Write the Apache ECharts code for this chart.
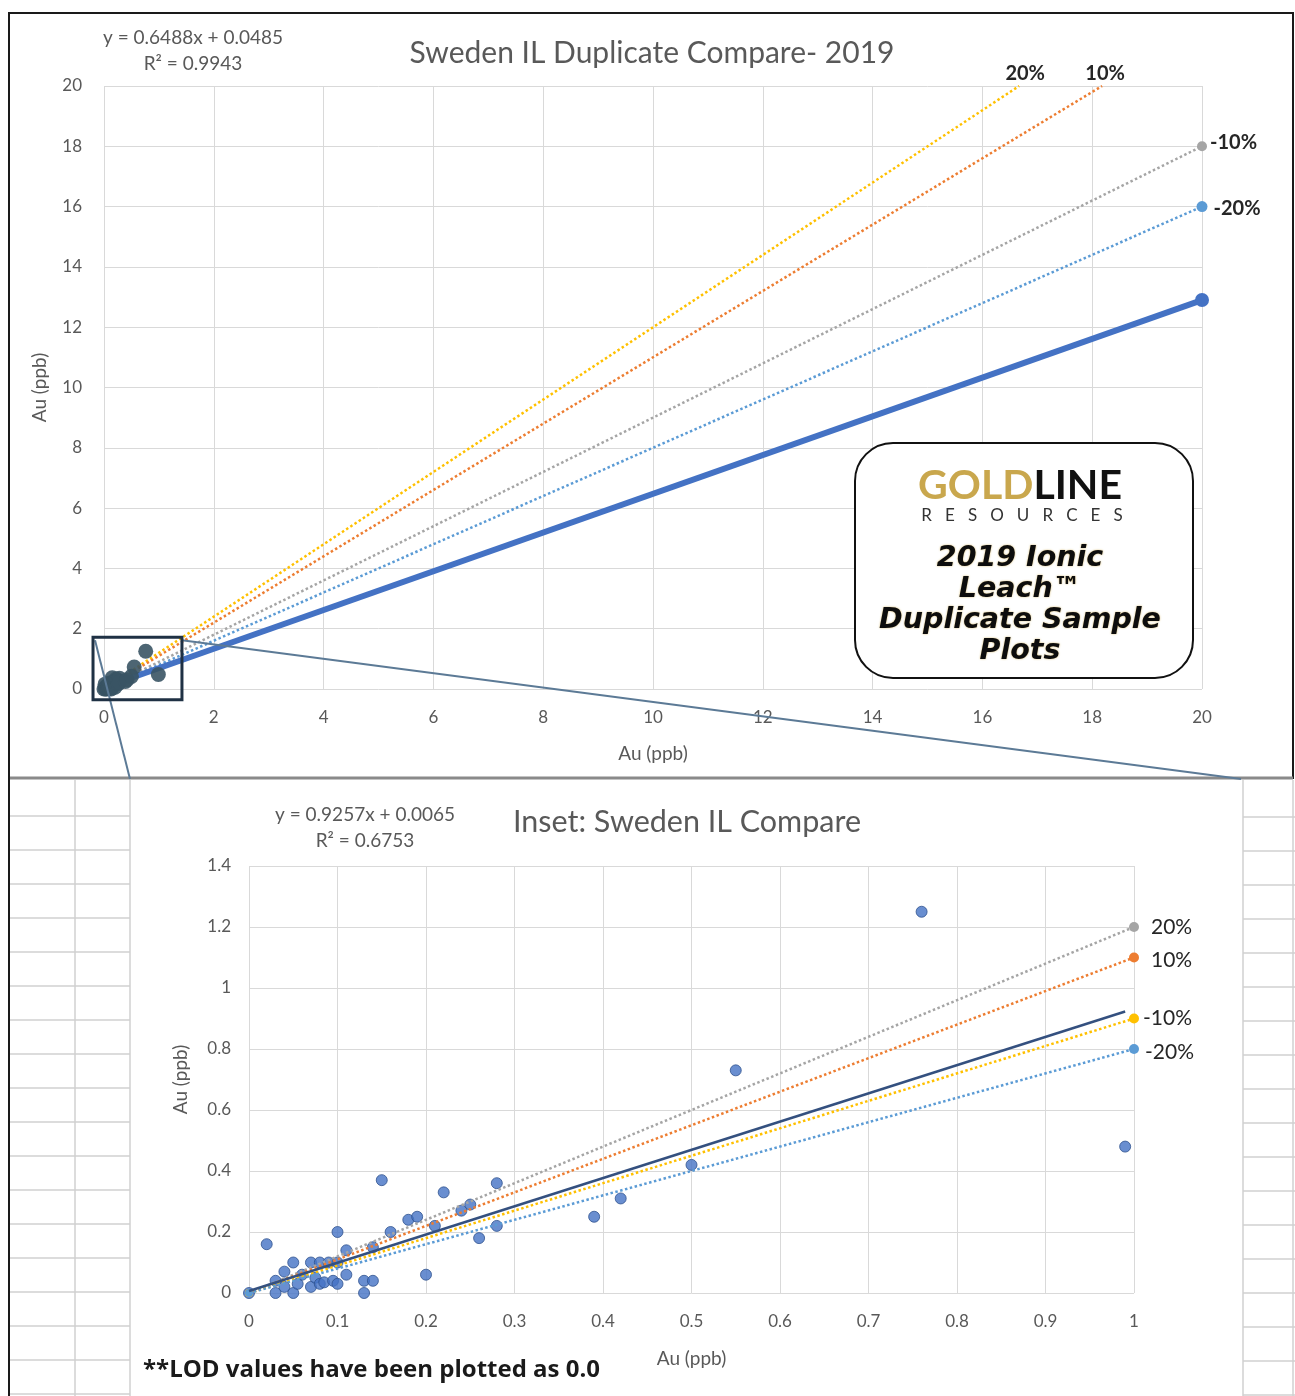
<!DOCTYPE html>
<html><head><meta charset="utf-8">
<script src="https://cdn.jsdelivr.net/npm/echarts/dist/echarts.min.js"></script>
<style>html,body{margin:0;padding:0;background:#fff}#c{width:1295px;height:1396px}</style>
</head><body><div id="c"></div>
<script>
const FONT = 'Lato, "Open Sans", sans-serif';

// ---- Top chart data ----
const topTitle = 'Sweden IL Duplicate Compare- 2019';
const topEq = ['y = 0.6488x + 0.0485', 'R² = 0.9943'];
const topRef20 = [[0, 0], [16.67, 20]];
const topRef10 = [[0, 0], [18.18, 20]];
const topRefM10 = [[0, 0], [20, 18]];
const topRefM20 = [[0, 0], [20, 16]];
const topTrend = [[0, 0.05], [20, 12.9]];
const topRefLabels = ['20%', '10%', '-10%', '-20%'];

// ---- Inset data (samples) ----
const sampleX = [0, 0.02, 0.03, 0.03, 0.04, 0.04, 0.05, 0.05, 0.055, 0.06, 0.07, 0.07, 0.075, 0.08, 0.08, 0.085, 0.09, 0.095, 0.1, 0.1, 0.1, 0.11, 0.11, 0.13, 0.13, 0.14, 0.14, 0.15, 0.16, 0.18, 0.19, 0.2, 0.21, 0.22, 0.24, 0.25, 0.26, 0.28, 0.28, 0.39, 0.42, 0.5, 0.55, 0.76, 0.99];
const sampleY = [0, 0.16, 0.0, 0.04, 0.07, 0.02, 0.0, 0.1, 0.03, 0.06, 0.1, 0.02, 0.05, 0.1, 0.03, 0.035, 0.1, 0.04, 0.1, 0.03, 0.2, 0.14, 0.06, 0.0, 0.04, 0.04, 0.15, 0.37, 0.2, 0.24, 0.25, 0.06, 0.22, 0.33, 0.27, 0.29, 0.18, 0.36, 0.22, 0.25, 0.31, 0.42, 0.73, 1.25, 0.48];
const insetTitle = 'Inset: Sweden IL Compare';
const insetEq = ['y = 0.9257x + 0.0065', 'R² = 0.6753'];
const insetRef20 = [[0, 0], [1, 1.2]];
const insetRef10 = [[0, 0], [1, 1.1]];
const insetRefM10 = [[0, 0], [1, 0.9]];
const insetRefM20 = [[0, 0], [1, 0.8]];
const insetTrend = [[0, 0.0065], [0.99, 0.923]];
const insetRefLabels = ['20%', '10%', '-10%', '-20%'];

// zoom box (top chart data coords)
const zoomBoxX = [-0.2, 1.42];
const zoomBoxY = [-0.36, 1.72];

const footnote = '**LOD values have been plotted as 0.0';
const axisName = 'Au (ppb)';

const samples = sampleX.map((x, i) => [x, sampleY[i]]);

function valAxis(gi, min, max, interval, nameGap, margin) {
  return {
    type: 'value', gridIndex: gi, min, max, interval,
    name: axisName, nameLocation: 'middle', nameGap,
    nameTextStyle: { fontFamily: FONT, fontSize: 19, color: '#595959' },
    axisLine: { show: false }, axisTick: { show: false },
    axisLabel: { fontFamily: FONT, fontSize: 17, color: '#595959', margin },
    splitLine: { show: true, lineStyle: { color: '#d9d9d9', width: 1 } }
  };
}

function refLine(gi, data, color, label, opts) {
  const last = data.length - 1;
  return {
    type: 'line', xAxisIndex: gi, yAxisIndex: gi, z: opts.z || 3,
    data: data.map((d, i) => {
      const item = { value: d };
      if (i === last) {
        item.symbolSize = opts.endSym;
        item.label = {
          show: true, formatter: label, position: opts.pos, distance: opts.dist || 5,
          offset: opts.offset || [0, 0],
          fontFamily: FONT, fontSize: opts.fs || 21, color: opts.lc || '#262626',
          fontWeight: opts.fw || 'normal'
        };
      } else {
        item.symbolSize = opts.startSym || 0;
      }
      return item;
    }),
    symbol: 'circle', showSymbol: true, clip: false,
    itemStyle: { color },
    lineStyle: { color, width: opts.w || 2.5, type: 'dotted' },
    animation: false
  };
}

const option = {
  animation: false,
  backgroundColor: 'transparent',
  title: [
    { text: topTitle, left: 647, top: 33, textAlign: 'center',
      textStyle: { fontFamily: FONT, fontSize: 30, fontWeight: 'normal', color: '#595959' } },
    { text: insetTitle, left: 682, top: 802, textAlign: 'center',
      textStyle: { fontFamily: FONT, fontSize: 30.5, fontWeight: 'normal', color: '#595959' } }
  ],
  grid: [
    { left: 104, top: 86, width: 1098, height: 603 },
    { left: 249, top: 866, width: 885, height: 427 }
  ],
  xAxis: [valAxis(0, 0, 20, 2, 55, 20), valAxis(1, 0, 1, 0.1, 56, 20)],
  yAxis: [valAxis(0, 0, 20, 2, 55, 22), valAxis(1, 0, 1.4, 0.2, 59, 18)],
  series: [
    // top chart
    refLine(0, topRef20, '#FFC000', topRefLabels[0], { endSym: 0, pos: 'top', dist: 2, offset: [6, 0], fw: 'bold', fs: 20 }),
    refLine(0, topRef10, '#ED7D31', topRefLabels[1], { endSym: 0, pos: 'top', dist: 2, offset: [3, 0], fw: 'bold', fs: 20 }),
    refLine(0, topRefM10, '#A5A5A5', topRefLabels[2], { endSym: 10, pos: 'right', dist: 3, offset: [0, -4], fw: 'bold', fs: 20 }),
    refLine(0, topRefM20, '#5B9BD5', topRefLabels[3], { endSym: 11, pos: 'right', dist: 6, offset: [0, 2], fw: 'bold', fs: 20 }),
    {
      type: 'line', xAxisIndex: 0, yAxisIndex: 0, z: 4,
      data: topTrend.map((d, i) => ({ value: d, symbolSize: i === topTrend.length - 1 ? 14 : 0 })),
      symbol: 'circle', showSymbol: true,
      itemStyle: { color: '#4472C4' }, lineStyle: { color: '#4472C4', width: 6 }
    },
    {
      type: 'scatter', xAxisIndex: 0, yAxisIndex: 0, z: 5, data: samples,
      symbolSize: 15, itemStyle: { color: '#3A5464', opacity: 0.9 }
    },
    // inset chart
    {
      type: 'scatter', xAxisIndex: 1, yAxisIndex: 1, z: 2, data: samples,
      symbolSize: 11, itemStyle: { color: '#4472C4', borderColor: '#2F528F', borderWidth: 1 }
    },
    refLine(1, insetRef20, '#A5A5A5', insetRefLabels[0], { endSym: 10, startSym: 8, pos: 'right', dist: 12, z: 3 }),
    refLine(1, insetRef10, '#ED7D31', insetRefLabels[1], { endSym: 10, startSym: 8, pos: 'right', dist: 12, offset: [0, 3], z: 3 }),
    refLine(1, insetRefM10, '#FFC000', insetRefLabels[2], { endSym: 10, startSym: 8, pos: 'right', dist: 4, z: 3 }),
    refLine(1, insetRefM20, '#5B9BD5', insetRefLabels[3], { endSym: 10, startSym: 8, pos: 'right', dist: 6, offset: [0, 3], z: 3 }),
    {
      type: 'line', xAxisIndex: 1, yAxisIndex: 1, z: 4, data: insetTrend,
      showSymbol: false, symbol: 'none',
      lineStyle: { color: '#34507F', width: 2.5 }
    }
  ]
};

const chart = echarts.init(document.getElementById('c'));
chart.setOption(option);

// ---- decorations ----
const g = [];
g.push({ type: 'rect', z: -100, silent: true, shape: { x: 0, y: 0, width: 1295, height: 1396 }, style: { fill: '#fff' } });
// spreadsheet cells behind inset
const rows = [];
for (let y = 816; y < 1396; y += 34) rows.push(y);
rows.forEach(y => {
  g.push({ type: 'line', z: -90, silent: true, shape: { x1: 10, y1: y, x2: 130, y2: y }, style: { stroke: '#d0d0d0', lineWidth: 1.5 } });
  g.push({ type: 'line', z: -90, silent: true, shape: { x1: 1243, y1: y + 1, x2: 1295, y2: y + 1 }, style: { stroke: '#d0d0d0', lineWidth: 1.5 } });
});
[75, 130, 1243, 1293].forEach(x => {
  g.push({ type: 'line', z: -90, silent: true, shape: { x1: x, y1: 780, x2: x, y2: 1396 }, style: { stroke: '#d0d0d0', lineWidth: 1.5 } });
});
// top frame
g.push({ type: 'rect', z: -80, silent: true, shape: { x: 9, y: 13, width: 1284, height: 765 }, style: { fill: '#fff', stroke: '#1a1a1a', lineWidth: 2 } });
g.push({ type: 'line', z: -79, silent: true, shape: { x1: 9, y1: 778, x2: 1293, y2: 778 }, style: { stroke: '#8a8a8a', lineWidth: 3 } });
g.push({ type: 'line', z: -79, silent: true, shape: { x1: 9, y1: 13, x2: 9, y2: 1396 }, style: { stroke: '#1a1a1a', lineWidth: 2 } });

// zoom box and connectors
const tl = chart.convertToPixel({ gridIndex: 0 }, [zoomBoxX[0], zoomBoxY[1]]);
const br = chart.convertToPixel({ gridIndex: 0 }, [zoomBoxX[1], zoomBoxY[0]]);
const insetBox = [130, 779, 1241, 779];
g.push({ type: 'line', z: 6, silent: true, shape: { x1: tl[0] + 2, y1: tl[1] + 3, x2: insetBox[0], y2: insetBox[1] }, style: { stroke: '#5C7A96', lineWidth: 2 } });
g.push({ type: 'line', z: 6, silent: true, shape: { x1: br[0], y1: tl[1] + 3, x2: insetBox[2], y2: insetBox[3] }, style: { stroke: '#5C7A96', lineWidth: 2 } });
g.push({ type: 'rect', z: 7, silent: true, shape: { x: tl[0], y: tl[1], width: br[0] - tl[0], height: br[1] - tl[1] }, style: { fill: 'none', stroke: '#1F3144', lineWidth: 3 } });

// equations
function txt(x, y, text, size, color, extra) {
  return Object.assign({ type: 'text', z: 20, silent: true, x, y,
    style: Object.assign({ text, fontFamily: FONT, fontSize: size, fill: color, align: 'center', verticalAlign: 'middle' }, extra || {}) });
}
g.push(txt(193, 38, topEq[0], 19, '#595959'));
g.push(txt(193, 64, topEq[1], 19, '#595959'));
g.push(txt(365, 815, insetEq[0], 19, '#595959'));
g.push(txt(365, 841, insetEq[1], 19, '#595959'));
g.push(txt(143, 1370, footnote, 24, '#1a1a1a', { align: 'left', fontWeight: 'bold', fontFamily: '"Open Sans", sans-serif' }));

// logo box
g.push({ type: 'rect', z: 20, silent: true, shape: { x: 855, y: 443, width: 338, height: 235, r: 38 }, style: { fill: '#fff', stroke: '#111', lineWidth: 2 } });
g.push({ type: 'text', z: 21, silent: true, x: 1020, y: 486, style: {
  text: '{a|GOLD}{b|LINE}', align: 'center', verticalAlign: 'middle',
  rich: { a: { fontFamily: 'Lato', fontWeight: 'bold', fontSize: 41, fill: '#C9A74D' }, b: { fontFamily: 'Lato', fontWeight: 'bold', fontSize: 41, fill: '#111' } } } });
g.push(txt(1022, 516, 'R   E   S   O   U   R   C   E   S', 17, '#333'));
const logoLines = ['2019 Ionic', 'Leach™', 'Duplicate Sample', 'Plots'];
const logoY = [559, 590, 621, 652];
logoLines.forEach((t, i) => g.push(txt(1020, logoY[i], t, 28.5, '#0d0d0d', { fontFamily: '"DejaVu Sans"', fontStyle: 'italic', fontWeight: 'bold', textShadowColor: 'rgba(200,160,60,0.8)', textShadowBlur: 2 })));

chart.setOption({ graphic: g });
</script></body></html>
